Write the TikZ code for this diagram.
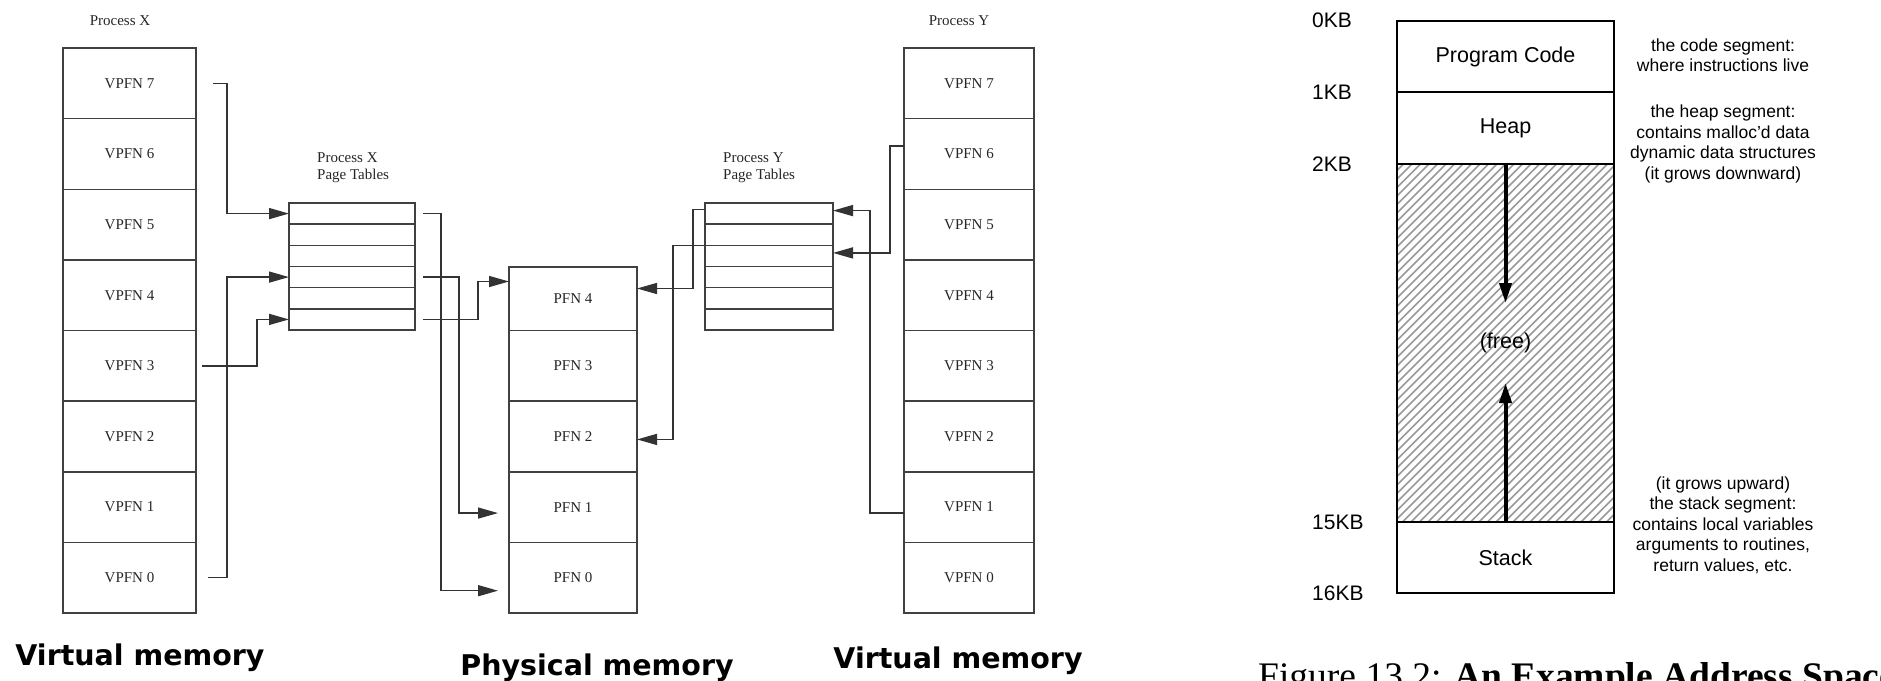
\documentclass[tikz,border=0pt]{standalone}
\usepackage{fontspec}
\setmainfont{Liberation Serif}
\newfontfamily\arialfont{Liberation Sans}
\newfontfamily\tahomafont{DejaVu Sans}
\usetikzlibrary{arrows.meta}

\begin{document}
\begin{tikzpicture}[x=1pt,y=1pt,yscale=-1,xscale=1,
  cell/.style={draw=black!75, line width=1.5pt, inner sep=0pt, outer sep=0pt, text=black!85, font=\fontsize{15}{18}\selectfont},
  ptcell/.style={draw=black!75, line width=1.5pt, inner sep=0pt, outer sep=0pt, minimum height=21.1667pt},
  conn/.style={draw=black!80, line width=1.5pt, -{Triangle[length=20pt,width=11pt]}},
  small/.style={inner sep=0pt, text=black!85, font=\fontsize{15}{17}\selectfont},
  memlabel/.style={inner sep=0pt, font=\tahomafont\bfseries\fontsize{28.5}{30}\selectfont},
  segbox/.style={draw=black, line width=2.5pt, inner sep=0pt, outer sep=0pt, minimum width=217pt, font=\arialfont\fontsize{21.5}{24}\selectfont},
  growarrow/.style={draw=black, line width=4pt, -{Triangle[length=20pt,width=12pt]}},
  hatch/.style={draw=black!40, line width=1.6pt},
  kblabel/.style={anchor=west, inner sep=0pt, font=\arialfont\fontsize{21}{24}\selectfont},
  note/.style={align=center, inner sep=0pt, font=\arialfont\fontsize{17.5}{20.5}\selectfont}
]
\useasboundingbox (0,0) rectangle (1881,680);
\clip (0,0) rectangle (1881,680);

%Shape: Process X virtual pages
\foreach \i in {0,...,7}
  \node[cell, minimum width=133pt, minimum height=70.625pt] (vx\i) at (129.5,{83.3125+(7-\i)*70.625}) {VPFN \i};
%Shape: Process Y virtual pages
\foreach \i in {0,...,7}
  \node[cell, minimum width=130pt, minimum height=70.625pt] (vy\i) at (969,{83.3125+(7-\i)*70.625}) {VPFN \i};
%Shape: physical frames
\foreach \i in {0,...,3}
  \node[cell, minimum width=128pt, minimum height=70.625pt] (pf\i) at (573,{83.3125+(7-\i)*70.625}) {PFN \i};
\node[cell, minimum width=128pt, minimum height=63.5pt] (pf4) at (573,298.5) {PFN 4};
%Shape: page tables
\foreach \k in {1,...,6} {
  \node[ptcell, minimum width=126pt] (ptx\k) at (352,{203+(\k-0.5)*21.1667}) {};
  \node[ptcell, minimum width=128pt] (pty\k) at (769,{203+(\k-0.5)*21.1667}) {};
}

% Text Node
\node[small] (procx) at (120,21) {Process X};
% Text Node
\node[small] (procy) at (959,21) {Process Y};
% Text Node
\node[small, anchor=west, align=left] (tablex) at (317,167.5) {Process X\\Page Tables};
% Text Node
\node[small, anchor=west, align=left] (tabley) at (723,167.5) {Process Y\\Page Tables};

% X pages into X table
\draw[conn] ([xshift=17pt]vx7.east) -- ([xshift=31pt]vx7.east) |- (ptx1.west);
\draw[conn] ([xshift=6pt]vx3.east) -- ([xshift=61pt]vx3.east) |- (ptx6.west);
\draw[conn] ([xshift=12pt]vx0.east) -- ([xshift=31pt]vx0.east) |- (ptx4.west);
% X table into frames
\draw[conn] ([xshift=8pt]ptx1.east) -- ([xshift=26pt]ptx1.east) |- ([xshift=-11pt,yshift=13pt]pf0.west);
\draw[conn] ([xshift=8pt]ptx4.east) -- ([xshift=44pt]ptx4.east) |- ([xshift=-11pt,yshift=6pt]pf1.west);
\draw[conn] ([xshift=8pt]ptx6.east) -- ([xshift=63pt]ptx6.east) |- ([yshift=-17pt]pf4.west);
% Y pages into Y table
\draw[conn] ([yshift=-8pt]vy6.west) -- ([xshift=-14pt,yshift=-8pt]vy6.west) |- ([yshift=-3pt]pty3.east);
\draw[conn] ([yshift=6pt]vy1.west) -- ([xshift=-34pt,yshift=6pt]vy1.west) |- ([yshift=-3pt]pty1.east);
% Y table into frames
\draw[conn] ([yshift=-4pt]pty1.west) -- ([xshift=-12pt,yshift=-4pt]pty1.west) |- ([yshift=-10pt]pf4.east);
\draw[conn] (pty3.north west) -- ([xshift=-32pt]pty3.north west) |- ([yshift=3pt]pf2.east);

% Text Node
\node[memlabel, anchor=base] (vxname) at (140,665) {Virtual memory};
% Text Node
\node[memlabel, anchor=base] (pfname) at (597,675) {Physical memory};
% Text Node
\node[memlabel, anchor=base] (vyname) at (958,668) {Virtual memory};

%Shape: address space
\node[segbox, minimum height=71pt] (code) at (1505.5,56.5) {Program Code};
\node[segbox, minimum height=72pt] (heap) at (1505.5,128) {Heap};
\node[segbox, draw=none, minimum height=358pt] (free) at (1505.5,343) {};
\begin{scope}
  \clip (free.south west) rectangle (free.north east);
  \foreach \d in {-360,-351.5,...,230}
    \draw[hatch] (free.south west) ++(\d,0) -- ++(360,-360);
\end{scope}
\draw[segbox] (free.north west) rectangle (free.south east);
\node[segbox, draw=none] (freetext) at (free.center) {(free)};
\node[segbox, minimum height=71pt] (stack) at (1505.5,557.5) {Stack};
\draw[growarrow] (free.north) -- ([yshift=139pt]free.north);
\draw[growarrow] (free.south) -- ([yshift=-139pt]free.south);

% Text Node
\node[kblabel] (kb0) at (1312,20) {0KB};
\node[kblabel] (kb1) at (1312,92) {1KB};
\node[kblabel] (kb2) at (1312,164) {2KB};
\node[kblabel] (kb15) at (1312,522) {15KB};
\node[kblabel] (kb16) at (1312,593) {16KB};

% Text Node
\node[note] (codenote) at (1723,55) {the code segment:\\where instructions live};
\node[note] (heapnote) at (1723,144) {the heap segment:\\contains malloc’d data\\dynamic data structures\\(it grows downward)};
\node[note] (stacknote) at (1723,525) {(it grows upward)\\the stack segment:\\contains local variables\\arguments to routines,\\return values, etc.};

% Text Node
\node[anchor=base west, inner sep=0pt, font=\fontsize{37.5}{40}\selectfont] (caption) at (1258,688) {Figure 13.2: \textbf{An Example Address Space}};

\end{tikzpicture}
\end{document}
